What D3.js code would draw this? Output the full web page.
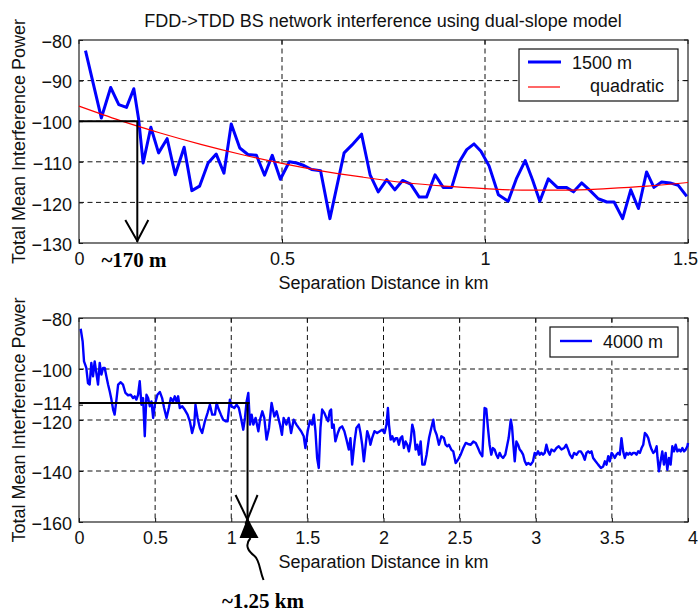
<!DOCTYPE html>
<html><head><meta charset="utf-8">
<script src="https://cdn.jsdelivr.net/npm/d3@7"></script>
<style>
html,body{margin:0;padding:0;background:#fff;}
svg{display:block;}
</style></head>
<body>
<svg id="chart" width="698" height="612" font-family="'Liberation Sans',Arial,sans-serif"></svg>
<script>
// ---------------- DATA ----------------
const chartTitle = "FDD->TDD BS network interference using dual-slope model";
const xAxisTitle = "Separation Distance in km";
const yAxisTitle = "Total Mean Interference Power";

const topXTicks = [0, 0.5, 1, 1.5];
const topYTicks = [-130, -120, -110, -100, -90, -80];
const botXTicks = [0, 0.5, 1, 1.5, 2, 2.5, 3, 3.5, 4];
const botYTicks = [-160, -140, -120, -114, -100, -80];
const botYGrid = [-140, -120, -100];

const legendTop = ["1500 m", "quadratic"];
const legendBot = ["4000 m"];

// series "1500 m": [distance km, power]
const series1500 = [[0.016,-82.6],[0.055,-99.2],[0.078,-91.7],[0.098,-95.9],[0.117,-96.6],[0.135,-92.0],[0.147,-99.6],[0.158,-110.3],[0.177,-101.5],[0.196,-107.8],[0.217,-104.3],[0.237,-113.2],[0.259,-106.4],[0.278,-117.1],[0.297,-116.0],[0.318,-110.3],[0.338,-108.1],[0.357,-112.8],[0.375,-100.7],[0.396,-106.6],[0.416,-108.2],[0.437,-108.4],[0.457,-113.3],[0.476,-108.4],[0.496,-114.3],[0.518,-110.0],[0.536,-110.3],[0.554,-110.9],[0.573,-111.9],[0.595,-112.2],[0.618,-124.0],[0.653,-107.8],[0.672,-105.9],[0.696,-103.2],[0.717,-113.2],[0.737,-117.4],[0.758,-114.4],[0.778,-116.9],[0.797,-114.6],[0.817,-115.5],[0.838,-118.7],[0.856,-118.7],[0.877,-113.2],[0.897,-116.3],[0.918,-116.3],[0.937,-110.0],[0.955,-107.0],[0.973,-105.6],[0.99,-107.4],[1.01,-111.0],[1.033,-118.1],[1.057,-119.7],[1.078,-114.0],[1.099,-109.7],[1.117,-114.4],[1.135,-119.7],[1.156,-114.2],[1.178,-116.3],[1.200,-116.3],[1.218,-117.4],[1.238,-115.2],[1.259,-117.1],[1.279,-119.1],[1.300,-119.9],[1.318,-119.9],[1.339,-124.0],[1.359,-116.9],[1.378,-121.5],[1.398,-112.5],[1.416,-116.3],[1.435,-115.0],[1.456,-115.2],[1.476,-115.8],[1.497,-118.5]];

// quadratic fit
const fitQuadratic = [[0,-96.3],[0.1,-99.8],[0.2,-102.9],[0.3,-105.7],[0.4,-108.2],[0.5,-110.4],[0.6,-112.3],[0.7,-113.8],[0.8,-115.1],[0.9,-116.0],[1.0,-116.6],[1.1,-117.0],[1.2,-117.0],[1.3,-116.6],[1.4,-116.0],[1.5,-115.1]];

// series "4000 m"
const series4000 = [[0.011,-84.2],[0.024,-89.2],[0.033,-97],[0.048,-99.6],[0.059,-105.5],[0.07,-106.1],[0.081,-97.6],[0.092,-102.9],[0.103,-97],[0.114,-101.6],[0.125,-106.1],[0.136,-97.6],[0.147,-102.2],[0.158,-99.6],[0.169,-99.6],[0.18,-102.9],[0.191,-106.1],[0.202,-108.8],[0.213,-112],[0.224,-115.9],[0.234,-117.9],[0.246,-112],[0.257,-106.1],[0.274,-105.2],[0.289,-106.1],[0.305,-109.4],[0.322,-110.3],[0.34,-110.1],[0.355,-111.4],[0.366,-110.7],[0.377,-112],[0.388,-110.1],[0.399,-104.8],[0.41,-114],[0.421,-111.4],[0.432,-126.4],[0.443,-110.1],[0.454,-111.4],[0.465,-114.6],[0.476,-112.7],[0.487,-119.2],[0.498,-114],[0.515,-110.1],[0.531,-109],[0.546,-111.4],[0.559,-115.3],[0.575,-119.2],[0.59,-115.3],[0.603,-111.4],[0.618,-112.7],[0.629,-110.7],[0.64,-112.7],[0.651,-110.7],[0.662,-115.3],[0.678,-114.6],[0.695,-116],[0.713,-117.9],[0.728,-120.5],[0.743,-125.1],[0.757,-121.8],[0.765,-114],[0.779,-119.2],[0.794,-123.1],[0.809,-125.1],[0.827,-120.5],[0.844,-117.3],[0.86,-114],[0.875,-117.9],[0.893,-117.9],[0.904,-113.3],[0.914,-115.3],[0.932,-117.9],[0.947,-119.9],[0.963,-120.5],[0.976,-120.5],[0.991,-112],[1.002,-114.6],[1.02,-115.3],[1.035,-114],[1.05,-115.3],[1.064,-119.2],[1.079,-123.8],[1.09,-119.2],[1.101,-112.7],[1.112,-109.4],[1.123,-121.8],[1.134,-117.9],[1.145,-121.8],[1.16,-119.2],[1.178,-124.4],[1.189,-119.9],[1.204,-116.6],[1.217,-119.2],[1.232,-127.7],[1.248,-123.1],[1.265,-113.3],[1.283,-118.6],[1.298,-116.6],[1.32,-121.8],[1.333,-125.8],[1.344,-119.2],[1.362,-121.8],[1.377,-119.2],[1.393,-125.1],[1.41,-119.9],[1.428,-121.8],[1.443,-123.1],[1.459,-124.4],[1.476,-126.4],[1.487,-131],[1.502,-124.4],[1.516,-120.5],[1.531,-121.8],[1.542,-117.9],[1.553,-124.4],[1.564,-134.9],[1.575,-138.8],[1.586,-123.1],[1.597,-115.9],[1.612,-117.3],[1.625,-119.2],[1.636,-120.5],[1.647,-116.6],[1.656,-115.9],[1.662,-123.1],[1.673,-121.8],[1.684,-128.4],[1.7,-125.1],[1.713,-123.1],[1.728,-122.5],[1.743,-124.4],[1.757,-127.7],[1.772,-131.6],[1.783,-127.1],[1.794,-137.5],[1.81,-128.4],[1.822,-123.1],[1.838,-121.8],[1.849,-125.1],[1.86,-129.7],[1.871,-136.2],[1.882,-130.3],[1.893,-124.4],[1.904,-126.4],[1.914,-129.7],[1.925,-127.1],[1.941,-124.4],[1.958,-125.1],[1.976,-124.4],[1.991,-123.8],[2.007,-125.1],[2.02,-121.8],[2.029,-115.3],[2.036,-121.8],[2.047,-127.7],[2.058,-126.4],[2.069,-128.4],[2.08,-127.1],[2.09,-127.1],[2.101,-129.7],[2.112,-127.1],[2.123,-126.4],[2.134,-131],[2.145,-128.4],[2.156,-129.7],[2.167,-132.3],[2.178,-128.4],[2.189,-121.8],[2.2,-124.4],[2.211,-131.6],[2.222,-129.7],[2.233,-133.6],[2.244,-128.4],[2.255,-137.5],[2.27,-137.5],[2.283,-133.6],[2.299,-127.1],[2.314,-123.1],[2.327,-119.9],[2.336,-123.8],[2.349,-125.8],[2.364,-129.7],[2.38,-126.4],[2.397,-127.1],[2.408,-129.7],[2.419,-130.3],[2.43,-129.7],[2.445,-131.6],[2.458,-132.3],[2.474,-136.9],[2.489,-135.6],[2.507,-133.6],[2.524,-131],[2.54,-129],[2.555,-129.4],[2.573,-129.7],[2.59,-128.4],[2.606,-129],[2.621,-131],[2.634,-132.9],[2.649,-134.2],[2.664,-115.3],[2.675,-115.6],[2.686,-123.1],[2.697,-129.7],[2.708,-133.6],[2.719,-131],[2.73,-131.6],[2.741,-133.6],[2.752,-134.9],[2.763,-132.9],[2.774,-134.2],[2.785,-134.9],[2.8,-133.6],[2.813,-129.7],[2.822,-127.1],[2.836,-119.9],[2.844,-122.5],[2.853,-129.7],[2.862,-136.2],[2.873,-128.4],[2.884,-129.7],[2.895,-131.6],[2.905,-132.3],[2.917,-133.6],[2.928,-136.2],[2.939,-137.5],[2.95,-136.9],[2.967,-137.5],[2.982,-136.2],[2.993,-132.9],[3.004,-133.6],[3.015,-132.3],[3.026,-133.6],[3.037,-132.9],[3.048,-133.6],[3.059,-132.9],[3.07,-129.7],[3.081,-132.3],[3.092,-133.6],[3.103,-131.6],[3.121,-132.3],[3.136,-131],[3.151,-130.3],[3.169,-131.6],[3.186,-131],[3.2,-129.7],[3.213,-131.6],[3.224,-133.6],[3.239,-134.9],[3.252,-132.9],[3.268,-133.6],[3.283,-132.3],[3.296,-132.3],[3.309,-133.6],[3.322,-135.6],[3.333,-132.9],[3.344,-132.3],[3.355,-132.9],[3.366,-132.3],[3.377,-134.9],[3.393,-136.2],[3.41,-137.5],[3.428,-138.8],[3.443,-138.2],[3.454,-136.2],[3.465,-137.5],[3.476,-134.2],[3.487,-136.2],[3.498,-132.9],[3.508,-133.6],[3.519,-134.9],[3.53,-133.6],[3.541,-132.9],[3.552,-133.6],[3.563,-127.1],[3.574,-132.3],[3.585,-134.9],[3.596,-132.9],[3.607,-133.6],[3.618,-132.9],[3.629,-133.6],[3.64,-132.9],[3.651,-132.9],[3.662,-133.6],[3.673,-132.3],[3.684,-132.9],[3.695,-131],[3.706,-129.7],[3.717,-125.1],[3.728,-125.8],[3.739,-127.1],[3.75,-129.7],[3.761,-131.6],[3.772,-132.9],[3.783,-132.3],[3.794,-130.3],[3.8,-134.9],[3.809,-140.1],[3.82,-136.2],[3.831,-132.3],[3.842,-137.5],[3.853,-132.9],[3.864,-139.5],[3.875,-134.9],[3.886,-137.5],[3.897,-130.3],[3.908,-132.3],[3.919,-129.7],[3.93,-132.3],[3.941,-131.6],[3.952,-132.3],[3.963,-131],[3.974,-132.3],[3.985,-131.6],[3.996,-130.3],[4.0,-129]];

// annotations
const annotTop = {x: 0.1436, y: -100, label: "~170 m"};
const annotBot = {x: 1.107, y: -113.3, label: "~1.25 km"};

// ---------------- DRAW ----------------
const svg = d3.select("#chart");
const FS = 18;
const SERIF = "'Liberation Serif','Times New Roman',serif";

function panel(cfg) {
  const x = d3.scaleLinear().domain(cfg.xDomain).range([79, 688]);
  const y = d3.scaleLinear().domain(cfg.yDomain).range([cfg.bottom, cfg.top]);
  const g = svg.append("g");

  // grid
  g.append("g").selectAll("line").data(cfg.xTicks.filter(d => d > cfg.xDomain[0] && d < cfg.xDomain[1]))
    .join("line").attr("x1", d => x(d)).attr("x2", d => x(d)).attr("y1", cfg.top).attr("y2", cfg.bottom)
    .attr("stroke", "#111").attr("stroke-width", 1).attr("stroke-dasharray", "5,3.5");
  g.append("g").selectAll("line").data(cfg.yGrid)
    .join("line").attr("y1", d => y(d)).attr("y2", d => y(d)).attr("x1", 79).attr("x2", 688)
    .attr("stroke", "#111").attr("stroke-width", 1).attr("stroke-dasharray", "5,3.5");

  // axes
  const ax = g.append("g").attr("transform", `translate(0,${cfg.bottom})`)
    .call(d3.axisBottom(x).tickValues(cfg.xTicks).tickFormat(d3.format("~g")).tickSizeInner(-4).tickSizeOuter(0).tickPadding(9));
  const ay = g.append("g").attr("transform", `translate(79,0)`)
    .call(d3.axisLeft(y).tickValues(cfg.yTicks).tickFormat(d3.format("d")).tickSizeInner(-4).tickSizeOuter(0).tickPadding(7));
  [ax, ay].forEach(a => {
    a.attr("font-family", null).attr("font-size", null);
    a.select(".domain").remove();
    a.selectAll("line").attr("stroke", "#111");
    a.selectAll("text").attr("font-size", FS).attr("fill", "#111");
  });
  ay.selectAll("text").attr("dy", d => d === -114 ? "0.28em" : (d === -120 ? "0.46em" : "0.4em"));
  ax.selectAll("text").attr("dy", "0.71em");
  // last x label hugs the right edge of the picture
  ax.selectAll(".tick").filter(d => d === cfg.xDomain[1]).select("text")
    .attr("text-anchor", "end").attr("x", 697.5 - x(cfg.xDomain[1]) > 12 ? 12 : 697.5 - x(cfg.xDomain[1]));

  // right/top ticks
  g.append("g").selectAll("line").data(cfg.yTicks).join("line")
    .attr("x1", 688).attr("x2", 684).attr("y1", d => y(d)).attr("y2", d => y(d)).attr("stroke", "#111");
  g.append("g").selectAll("line").data(cfg.xTicks).join("line")
    .attr("y1", cfg.top).attr("y2", cfg.top + 4).attr("x1", d => x(d)).attr("x2", d => x(d)).attr("stroke", "#111");

  // border
  g.append("rect").attr("x", 79).attr("y", cfg.top).attr("width", 609).attr("height", cfg.bottom - cfg.top)
    .attr("fill", "none").attr("stroke", "#222").attr("stroke-width", 1.2);

  // axis titles
  g.append("text").attr("x", 383.5).attr("y", cfg.bottom + 46).attr("text-anchor", "middle")
    .attr("font-size", FS).attr("fill", "#111").text(xAxisTitle);
  g.append("text").attr("transform", `translate(25,${(cfg.top + cfg.bottom) / 2}) rotate(-90)`)
    .attr("text-anchor", "middle").attr("font-size", FS).attr("fill", "#111").text(yAxisTitle);

  return {x, y, g};
}

// ---- Top panel ----
svg.append("text").attr("x", 383).attr("y", 27).attr("text-anchor", "middle")
  .attr("font-size", FS).attr("fill", "#111").text(chartTitle);

const P1 = panel({xDomain: [0, 1.5], yDomain: [-130, -80], top: 40, bottom: 243,
  xTicks: topXTicks, yTicks: topYTicks, yGrid: topYTicks.filter(d => d > -130 && d < -80)});

const line1 = d3.line().x(d => P1.x(d[0])).y(d => P1.y(d[1]));
P1.g.append("path").datum(series1500).attr("d", line1).attr("fill", "none")
  .attr("stroke", "#0000ff").attr("stroke-width", 3).attr("stroke-linejoin", "round");
P1.g.append("path").datum(fitQuadratic).attr("d", d3.line().curve(d3.curveMonotoneX).x(d => P1.x(d[0])).y(d => P1.y(d[1])))
  .attr("fill", "none").attr("stroke", "#ff0000").attr("stroke-width", 1.2);

// annotation top
{
  const ax = P1.x(annotTop.x), ay = P1.y(annotTop.y), by = P1.y(-130);
  const a = P1.g.append("g").attr("stroke", "#000").attr("stroke-width", 2).attr("fill", "none");
  a.append("line").attr("x1", P1.x(0)).attr("x2", ax + 1).attr("y1", ay).attr("y2", ay);
  a.append("line").attr("x1", ax).attr("x2", ax).attr("y1", ay).attr("y2", by - 1);
  a.append("polyline").attr("points", `${ax - 12},${by - 23} ${ax},${by - 2} ${ax + 11},${by - 23}`);
  P1.g.append("text").attr("x", 134).attr("y", 267).attr("text-anchor", "middle")
    .attr("font-family", SERIF).attr("font-weight", "bold")
    .attr("font-size", 21).attr("fill", "#000").text(annotTop.label);
}

// legend top
{
  const lg = svg.append("g");
  lg.append("rect").attr("x", 519).attr("y", 49).attr("width", 159).attr("height", 52)
    .attr("fill", "#fff").attr("stroke", "#111").attr("stroke-width", 1.2);
  lg.append("line").attr("x1", 528).attr("x2", 561).attr("y1", 62).attr("y2", 62).attr("stroke", "#0000ff").attr("stroke-width", 3);
  lg.append("text").attr("x", 572).attr("y", 69).attr("font-size", FS).attr("fill", "#111").text(legendTop[0]);
  lg.append("line").attr("x1", 528).attr("x2", 560).attr("y1", 87).attr("y2", 87).attr("stroke", "#ff0000").attr("stroke-width", 1.2);
  lg.append("text").attr("x", 590).attr("y", 92).attr("font-size", FS).attr("fill", "#111").text(legendTop[1]);
}

// ---- Bottom panel ----
const P2 = panel({xDomain: [0, 4], yDomain: [-160, -80], top: 318, bottom: 522,
  xTicks: botXTicks, yTicks: botYTicks, yGrid: botYGrid});

P2.g.append("path").datum(series4000).attr("d", d3.line().x(d => P2.x(d[0])).y(d => P2.y(d[1])))
  .attr("fill", "none").attr("stroke", "#0000ff").attr("stroke-width", 2.4).attr("stroke-linejoin", "round");

// annotation bottom
{
  const ax = P2.x(annotBot.x), ay = P2.y(annotBot.y), by = P2.y(-160);
  const a = P2.g.append("g").attr("stroke", "#000").attr("stroke-width", 2).attr("fill", "none");
  a.append("line").attr("x1", P2.x(0)).attr("x2", ax + 2).attr("y1", ay).attr("y2", ay);
  a.append("line").attr("x1", ax).attr("x2", ax).attr("y1", ay).attr("y2", by);
  a.append("line").attr("x1", ax - 12).attr("y1", by - 27).attr("x2", ax + 2).attr("y2", by + 2);
  a.append("line").attr("x1", ax + 10).attr("y1", by - 27).attr("x2", ax - 2).attr("y2", by + 2);
  P2.g.append("path").attr("d", `M${ax},${by - 4} L${ax - 8},${by + 16} L${ax + 11},${by + 16} Z`).attr("fill", "#000");
  P2.g.append("path").attr("d", `M${ax + 3},${by + 16} C${ax - 4},${by + 24} ${ax + 2},${by + 30} ${ax + 7},${by + 34} S${ax + 12},${by + 48} ${ax + 16},${by + 58}`)
    .attr("fill", "none").attr("stroke", "#000").attr("stroke-width", 2);
  P2.g.append("text").attr("x", 263).attr("y", 608).attr("text-anchor", "middle")
    .attr("font-family", SERIF).attr("font-weight", "bold")
    .attr("font-size", 21).attr("fill", "#000").text(annotBot.label);
}

// legend bottom
{
  const lg = svg.append("g");
  lg.append("rect").attr("x", 550).attr("y", 327).attr("width", 128).attr("height", 30)
    .attr("fill", "#fff").attr("stroke", "#111").attr("stroke-width", 1.2);
  lg.append("line").attr("x1", 560).attr("x2", 592).attr("y1", 341).attr("y2", 341).attr("stroke", "#0000ff").attr("stroke-width", 2.4);
  lg.append("text").attr("x", 603).attr("y", 348).attr("font-size", FS).attr("fill", "#111").text(legendBot[0]);
}
</script>
</body></html>
